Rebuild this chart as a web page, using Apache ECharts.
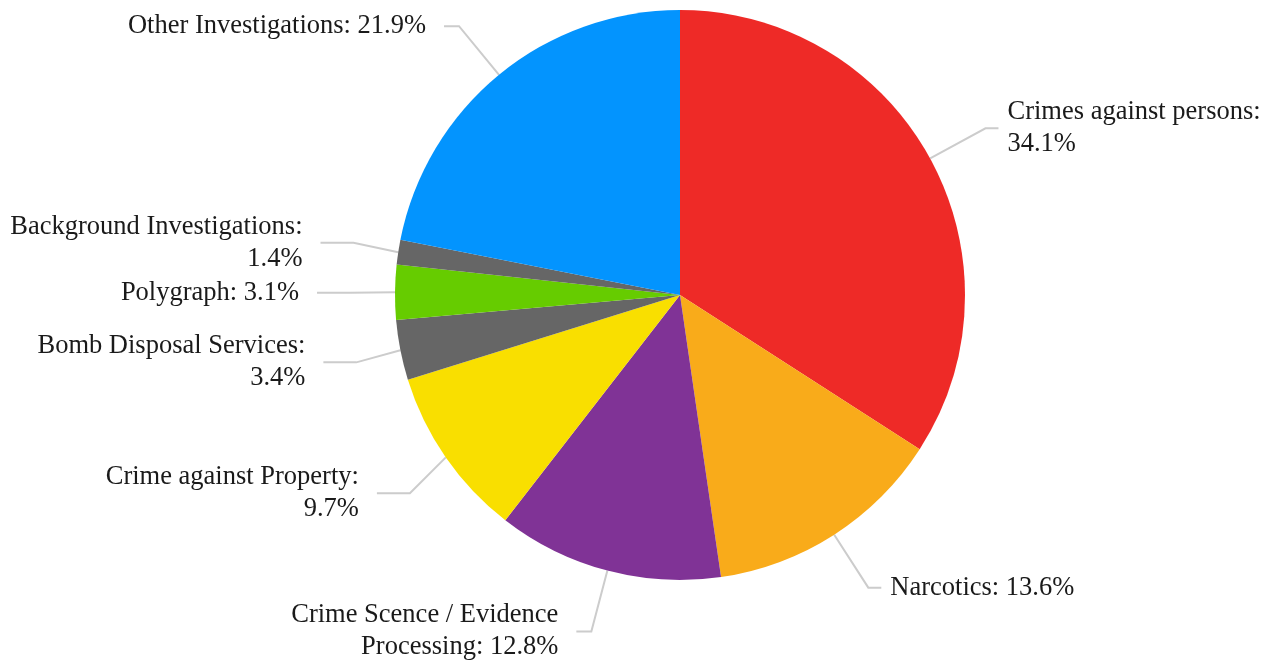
<!DOCTYPE html>
<html>
<head>
<meta charset="utf-8">
<script src="https://cdn.jsdelivr.net/npm/echarts@6/dist/echarts.min.js"></script>
<style>
  html, body { margin: 0; padding: 0; background: #ffffff; }
  #chart { width: 1270px; height: 665px; }
</style>
</head>
<body>
<div id="chart"></div>
<script>
const categories = [
  "Crimes against persons",
  "Narcotics",
  "Crime Scence / Evidence Processing",
  "Crime against Property",
  "Bomb Disposal Services",
  "Polygraph",
  "Background Investigations",
  "Other Investigations"
];
const values = [34.1, 13.6, 12.8, 9.7, 3.4, 3.1, 1.4, 21.9];
const colors = ["#EE2A27", "#F9AB1A", "#803396", "#F9DF00", "#666666", "#66CC00", "#666666", "#0394FE"];

const FONT_SIZE = 26.5;
const FONT_FAMILY = 'Liberation Serif';
const WRAP_WIDTH = 306;

const ctx = document.createElement('canvas').getContext('2d');
ctx.font = FONT_SIZE + 'px "' + FONT_FAMILY + '"';
function wrap(text) {
  const words = text.split(' ');
  const lines = [];
  let line = '';
  words.forEach(w => {
    const trial = line ? line + ' ' + w : w;
    if (line && ctx.measureText(trial).width > WRAP_WIDTH) {
      lines.push(line);
      line = w;
    } else {
      line = trial;
    }
  });
  if (line) lines.push(line);
  return lines.join('\n');
}

const chart = echarts.init(document.getElementById('chart'), null, { renderer: 'canvas' });
const total = values.reduce((a, b) => a + b, 0);
let acc = 0;
const data = categories.map((name, i) => {
  const mid = (acc + values[i] / 2) / total;
  acc += values[i];
  const item = { name: name, value: values[i], itemStyle: { color: colors[i] } };
  if (mid > 0.6 && mid < 0.85) {
    item.labelLine = { length: 63, length2: 33 };
    item.label = { distanceToLabelLine: 18 };
  } else if (mid > 0.5) {
    item.labelLine = { length: 63, length2: 15 };
    item.label = { distanceToLabelLine: 18 };
  }
  return item;
});

chart.setOption({
  animation: false,
  backgroundColor: '#ffffff',
  series: [{
    type: 'pie',
    center: [680, 295],
    radius: [0, 285],
    startAngle: 90,
    clockwise: true,
    avoidLabelOverlap: true,
    data: data,
    itemStyle: { borderWidth: 0 },
    emphasis: { disabled: true },
    label: {
      show: true,
      position: 'outside',
      formatter: p => wrap(p.name + ': ' + p.value.toFixed(1) + '%'),
      fontFamily: FONT_FAMILY,
      fontSize: FONT_SIZE,
      lineHeight: 32,
      color: '#1a1a1a',
      distanceToLabelLine: 9,
      bleedMargin: 0,
      overflow: 'none'
    },
    labelLine: {
      show: true,
      length: 63,
      length2: 13,
      smooth: false,
      lineStyle: { color: '#cccccc', width: 2 }
    }
  }]
});
</script>
</body>
</html>
